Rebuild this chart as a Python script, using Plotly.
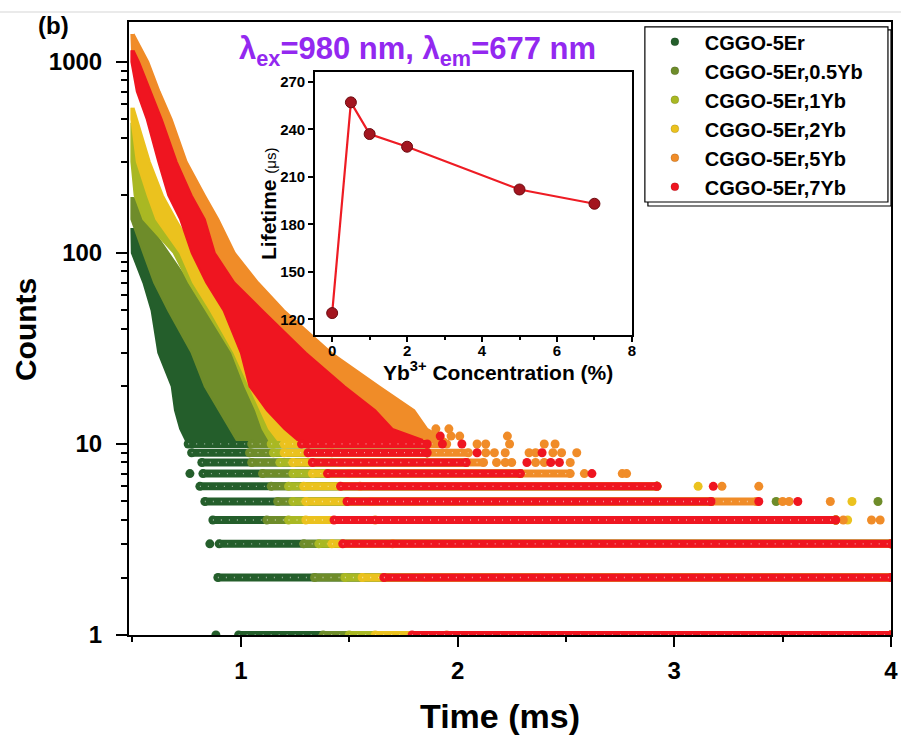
import plotly.graph_objects as go

FONT = "Liberation Sans, Arial, Helvetica, sans-serif"

# ---------------- series ----------------
series_names = ["CGGO-5Er", "CGGO-5Er,0.5Yb", "CGGO-5Er,1Yb",
                "CGGO-5Er,2Yb", "CGGO-5Er,5Yb", "CGGO-5Er,7Yb"]
series_colors = ["#245E2B", "#6E8C2A", "#A9B823", "#EBC21E", "#F08C28", "#EF1520"]

# dense decay cloud of each series: count level, earliest time and latest time (ms) at that level
er_cloud_level = [135, 100, 70, 50, 30, 20, 15, 12, 10.5]
er_cloud_left = [0.495, 0.497, 0.55, 0.588, 0.619, 0.681, 0.696, 0.72, 0.745]
er_cloud_right = [0.505, 0.60, 0.66, 0.70, 0.80, 0.87, 0.92, 0.96, 1.0]

yb05_cloud_level = [196, 150, 100, 70, 50, 30, 20, 15, 12, 10.5]
yb05_cloud_left = [0.495, 0.495, 0.55, 0.60, 0.665, 0.773, 0.834, 0.90, 0.95, 0.98]
yb05_cloud_right = [0.505, 0.56, 0.664, 0.76, 0.849, 0.972, 1.05, 1.09, 1.12, 1.14]

yb1_cloud_level = [480, 300, 200, 150, 100, 70, 50, 30, 20, 15, 12, 10.5]
yb1_cloud_left = [0.495, 0.495, 0.51, 0.55, 0.69, 0.76, 0.84, 0.96, 1.02, 1.07, 1.10, 1.13]
yb1_cloud_right = [0.505, 0.54, 0.60, 0.66, 0.76, 0.82, 0.91, 1.02, 1.08, 1.13, 1.17, 1.20]

yb2_cloud_level = [575, 500, 300, 200, 150, 100, 70, 50, 30, 20, 15, 12, 10.5]
yb2_cloud_left = [0.495, 0.495, 0.52, 0.57, 0.61, 0.72, 0.78, 0.86, 0.97, 1.04, 1.09, 1.13, 1.17]
yb2_cloud_right = [0.505, 0.52, 0.58, 0.64, 0.70, 0.79, 0.86, 0.95, 1.04, 1.11, 1.16, 1.21, 1.25]

yb5_cloud_level = [1400, 1000, 700, 500, 300, 200, 150, 100, 70, 50, 30, 20, 15, 12, 10.5]
yb5_cloud_left = [0.495, 0.50, 0.56, 0.62, 0.69, 0.76, 0.82, 0.86, 0.95, 1.10, 1.27, 1.40, 1.55, 1.65, 1.75]
yb5_cloud_right = [0.505, 0.573, 0.625, 0.681, 0.75, 0.834, 0.896, 0.972, 1.08, 1.20, 1.418, 1.64, 1.80, 1.86, 1.95]

yb7_cloud_level = [1150, 1000, 700, 500, 300, 200, 150, 100, 70, 50, 30, 20, 15, 12, 10.5]
yb7_cloud_left = [0.495, 0.495, 0.52, 0.566, 0.619, 0.665, 0.72, 0.773, 0.84, 0.92, 1.00, 1.04, 1.12, 1.20, 1.26]
yb7_cloud_right = [0.505, 0.53, 0.585, 0.635, 0.704, 0.773, 0.834, 0.88, 0.97, 1.10, 1.30, 1.48, 1.62, 1.70, 1.84]

# quantised tail: counts 1..10, first and last time of each continuous row (ms)
row_levels = [1, 2, 3, 4, 5, 6, 7, 8, 9, 10]
er_row_start = [0.99, 0.894, 0.90, 0.871, 0.834, 0.811, 0.825, 0.82, 0.773, 0.757]
yb05_row_start = [1.38, 1.34, 1.29, 1.12, 1.17, 1.14, 1.10, 1.05, 1.04, 1.05]
yb1_row_start = [1.50, 1.48, 1.36, 1.22, 1.24, 1.22, 1.24, 1.18, 1.15, 1.14]
yb2_row_start = [1.62, 1.56, 1.42, 1.30, 1.30, 1.29, 1.33, 1.24, 1.20, 1.20]
yb5_row_start = [1.95, 1.85, 1.70, 1.62, 1.60, 1.55, 1.50, 1.46, 1.42, 1.40]
yb7_row_start = [1.79, 1.66, 1.47, 1.43, 1.49, 1.46, 1.40, 1.33, 1.31, 1.28]
low_row_end = [4.0, 4.0, 4.0, 3.745, 3.17, 2.92, 2.29, 2.04, 1.86, 1.86]
yb5_row_end = [4.0, 4.0, 4.0, 3.745, 3.38, 2.92, 2.52, 2.12, 2.05, 1.95]
yb7_row_end = [4.0, 4.0, 4.0, 3.745, 3.17, 2.92, 2.29, 2.04, 1.86, 1.86]

# isolated points
er_pts_t = [0.885, 0.857, 0.765]
er_pts_c = [1, 3, 7]
yb05_pts_t = [3.47, 3.94]
yb05_pts_c = [5, 5]
yb1_pts_t = []
yb1_pts_c = []
yb2_pts_t = [3.80, 3.82, 3.11]
yb2_pts_c = [4, 5, 6]
yb5_pts_t = [3.78, 3.91, 3.95, 3.50, 3.53, 3.72, 3.22, 3.39, 2.585, 2.76, 2.78,
             2.18, 2.22, 2.25, 2.36, 2.40, 2.52, 2.13, 2.17, 2.22, 2.33, 2.36, 2.44,
             2.48, 2.55, 2.09, 2.13, 2.24, 2.40, 2.45, 1.97, 2.01, 2.23, 1.90, 1.96]
yb5_pts_c = [4, 4, 4, 5, 5, 5, 6, 6, 7, 7, 7,
             8, 8, 8, 8, 8, 8, 9, 9, 9, 9, 9, 9,
             9, 9, 10, 10, 10, 10, 10, 11, 11, 11, 12, 12]
yb7_pts_t = [3.39, 3.57, 3.18, 2.62, 2.32, 2.43, 2.47, 2.09, 2.39, 1.93, 2.02, 1.92]
yb7_pts_c = [5, 5, 6, 7, 8, 8, 8, 9, 9, 10, 10, 11]

# inset
yb_conc = [0, 0.5, 1, 2, 5, 7]
lifetime_us = [124, 257, 237, 229, 202, 193]

# ---------------- build ----------------
clouds = [
    (er_cloud_level, er_cloud_left, er_cloud_right),
    (yb05_cloud_level, yb05_cloud_left, yb05_cloud_right),
    (yb1_cloud_level, yb1_cloud_left, yb1_cloud_right),
    (yb2_cloud_level, yb2_cloud_left, yb2_cloud_right),
    (yb5_cloud_level, yb5_cloud_left, yb5_cloud_right),
    (yb7_cloud_level, yb7_cloud_left, yb7_cloud_right),
]
rows = [
    (er_row_start, low_row_end),
    (yb05_row_start, low_row_end),
    (yb1_row_start, low_row_end),
    (yb2_row_start, low_row_end),
    (yb5_row_start, yb5_row_end),
    (yb7_row_start, yb7_row_end),
]
pts = [
    (er_pts_t, er_pts_c), (yb05_pts_t, yb05_pts_c), (yb1_pts_t, yb1_pts_c),
    (yb2_pts_t, yb2_pts_c), (yb5_pts_t, yb5_pts_c), (yb7_pts_t, yb7_pts_c),
]

fig = go.Figure()

for i, name in enumerate(series_names):
    col = series_colors[i]
    lev, lft, rgt = clouds[i]
    fig.add_trace(go.Scatter(
        x=list(lft) + list(rgt)[::-1], y=list(lev) + list(lev)[::-1],
        mode="lines", fill="toself", fillcolor=col,
        line=dict(color=col, width=2), showlegend=False, hoverinfo="skip"))
    st, en = rows[i]
    rx, ry = [], []
    for L, a, b in zip(row_levels, st, en):
        rx += [a, b, None]
        ry += [L, L, None]
    fig.add_trace(go.Scatter(
        x=rx, y=ry, mode="lines+markers",
        line=dict(color=col, width=8),
        marker=dict(size=9, color=col),
        showlegend=False, hoverinfo="skip"))
    # glossy speckle along each row
    fig.add_trace(go.Scatter(
        x=rx, y=ry, mode="lines",
        line=dict(color="rgba(255,255,255,0.55)", width=1.3, dash="1px,7px"),
        showlegend=False, hoverinfo="skip"))
    px_, py_ = pts[i]
    if len(px_):
        fig.add_trace(go.Scatter(
            x=px_, y=py_, mode="markers",
            marker=dict(size=9, color=col),
            showlegend=False, hoverinfo="skip"))

# legend entries
for i, name in enumerate(series_names):
    fig.add_trace(go.Scatter(
        x=[None], y=[None], mode="markers", name=name,
        marker=dict(size=8, color=series_colors[i],
                    line=dict(color="rgba(0,0,0,0.25)", width=0.5))))

# inset
fig.add_trace(go.Scatter(
    x=yb_conc, y=lifetime_us, xaxis="x2", yaxis="y2", mode="lines+markers",
    line=dict(color="#EE1C24", width=2.2),
    marker=dict(size=11, color="#A3151F", line=dict(color="#6E0A10", width=1)),
    showlegend=False))

axis_common = dict(showline=True, linecolor="black", linewidth=2, mirror=True,
                   showgrid=False, zeroline=False, ticks="outside", tickcolor="black",
                   automargin=False)


def ann(text, x, y, size, **kw):
    d = dict(text=text, xref="paper", yref="paper", x=x, y=y, showarrow=False,
             xanchor="center", yanchor="middle",
             font=dict(size=size, family=FONT, color=kw.pop("color", "black")))
    d.update(kw)
    return d


fig.update_layout(
    width=901, height=742,
    margin=dict(l=129, r=10, t=22, b=107, autoexpand=False),
    paper_bgcolor="white", plot_bgcolor="white",
    font=dict(family=FONT, color="black"),
    xaxis=dict(domain=[0, 1], range=[0.484, 4.0], tickvals=[1, 2, 3, 4],
               ticklen=10, tickwidth=2,
               tickfont=dict(size=24, family=FONT, weight="bold"),
               ticklabelstandoff=3,
               minor=dict(ticks="outside", ticklen=5, tickwidth=2, tickcolor="black",
                          tickvals=[0.5, 1.5, 2.5, 3.5]),
               **axis_common),
    yaxis=dict(domain=[0, 1], type="log", range=[0, 3.209],
               tickvals=[1, 10, 100, 1000], ticktext=["1", "10", "100", "1000"],
               ticklen=11, tickwidth=2,
               tickfont=dict(size=24, family=FONT, weight="bold"),
               ticklabelstandoff=9,
               minor=dict(ticks="outside", ticklen=6, tickwidth=2, tickcolor="black",
                          tickvals=[2, 3, 4, 5, 6, 7, 8, 9, 20, 30, 40, 50, 60, 70, 80, 90,
                                    200, 300, 400, 500, 600, 700, 800, 900]),
               **axis_common),
    xaxis2=dict(domain=[0.244, 0.660], anchor="y2", range=[-0.46, 8],
                tickvals=[0, 2, 4, 6, 8], ticklen=5, tickwidth=1.5,
                tickfont=dict(size=15, family=FONT, weight="bold"),
                ticklabelstandoff=-4,
                minor=dict(ticks="outside", ticklen=3, tickwidth=1.5, tickcolor="black",
                           tickvals=[1, 3, 5, 7]),
                showline=True, linecolor="black", linewidth=1.5, mirror=True,
                showgrid=False, zeroline=False, ticks="outside", tickcolor="black",
                automargin=False),
    yaxis2=dict(domain=[0.489, 0.918], anchor="x2", range=[110, 276],
                tickvals=[120, 150, 180, 210, 240, 270], ticklen=5, tickwidth=1.5,
                tickfont=dict(size=15, family=FONT, weight="bold"),
                showline=True, linecolor="black", linewidth=1.5, mirror=True,
                showgrid=False, zeroline=False, ticks="outside", tickcolor="black",
                automargin=False),
    legend=dict(x=0.677, y=0.9995, xanchor="left", yanchor="top",
                bgcolor="rgba(0,0,0,0)", borderwidth=0,
                font=dict(size=20, family=FONT, weight="bold"),
                itemwidth=50, tracegroupgap=0),
    shapes=[
        dict(type="rect", xref="x2 domain", yref="y2 domain", x0=0, x1=1, y0=0, y1=1,
             fillcolor="white", line=dict(width=0), layer="below"),
        dict(type="line", xref="paper", yref="paper", x0=-0.17, x1=1.02,
             y0=1.0163, y1=1.0163, line=dict(color="#D5D5D5", width=1)),
        # legend frame with shadow
        dict(type="rect", xref="paper", yref="paper", x0=0.681, x1=1.0,
             y0=0.6998, y1=0.987, fillcolor="white",
             line=dict(color="black", width=1.2), layer="above"),
        dict(type="rect", xref="paper", yref="paper", x0=0.677, x1=0.996,
             y0=0.7064, y1=0.992, fillcolor="white",
             line=dict(color="black", width=1.2), layer="above"),
    ],
    annotations=[
        ann("<b>(b)</b>", -0.0997, 0.995, 24),
        ann("<b>λ<sub>ex</sub>=980 nm, λ<sub>em</sub>=677 nm</b>", 0.379, 0.952, 31,
            color="#9328F0"),
        ann("<b>Counts</b>", -0.135, 0.4976, 30, textangle=-90),
        ann("<b>Time (ms)</b>", 0.487, -0.132, 34),
        ann("<b>Lifetime</b> <span style='font-size:15px'>(μs)</span>", 0.1824, 0.7047, 21,
            textangle=-90),
        ann("<b>Yb<sup>3+</sup> Concentration (%)</b>", 0.484, 0.430, 21),
    ],
)

fig.write_html("out.html", config={"displayModeBar": False},
               post_script="document.body.style.margin='0px';")
